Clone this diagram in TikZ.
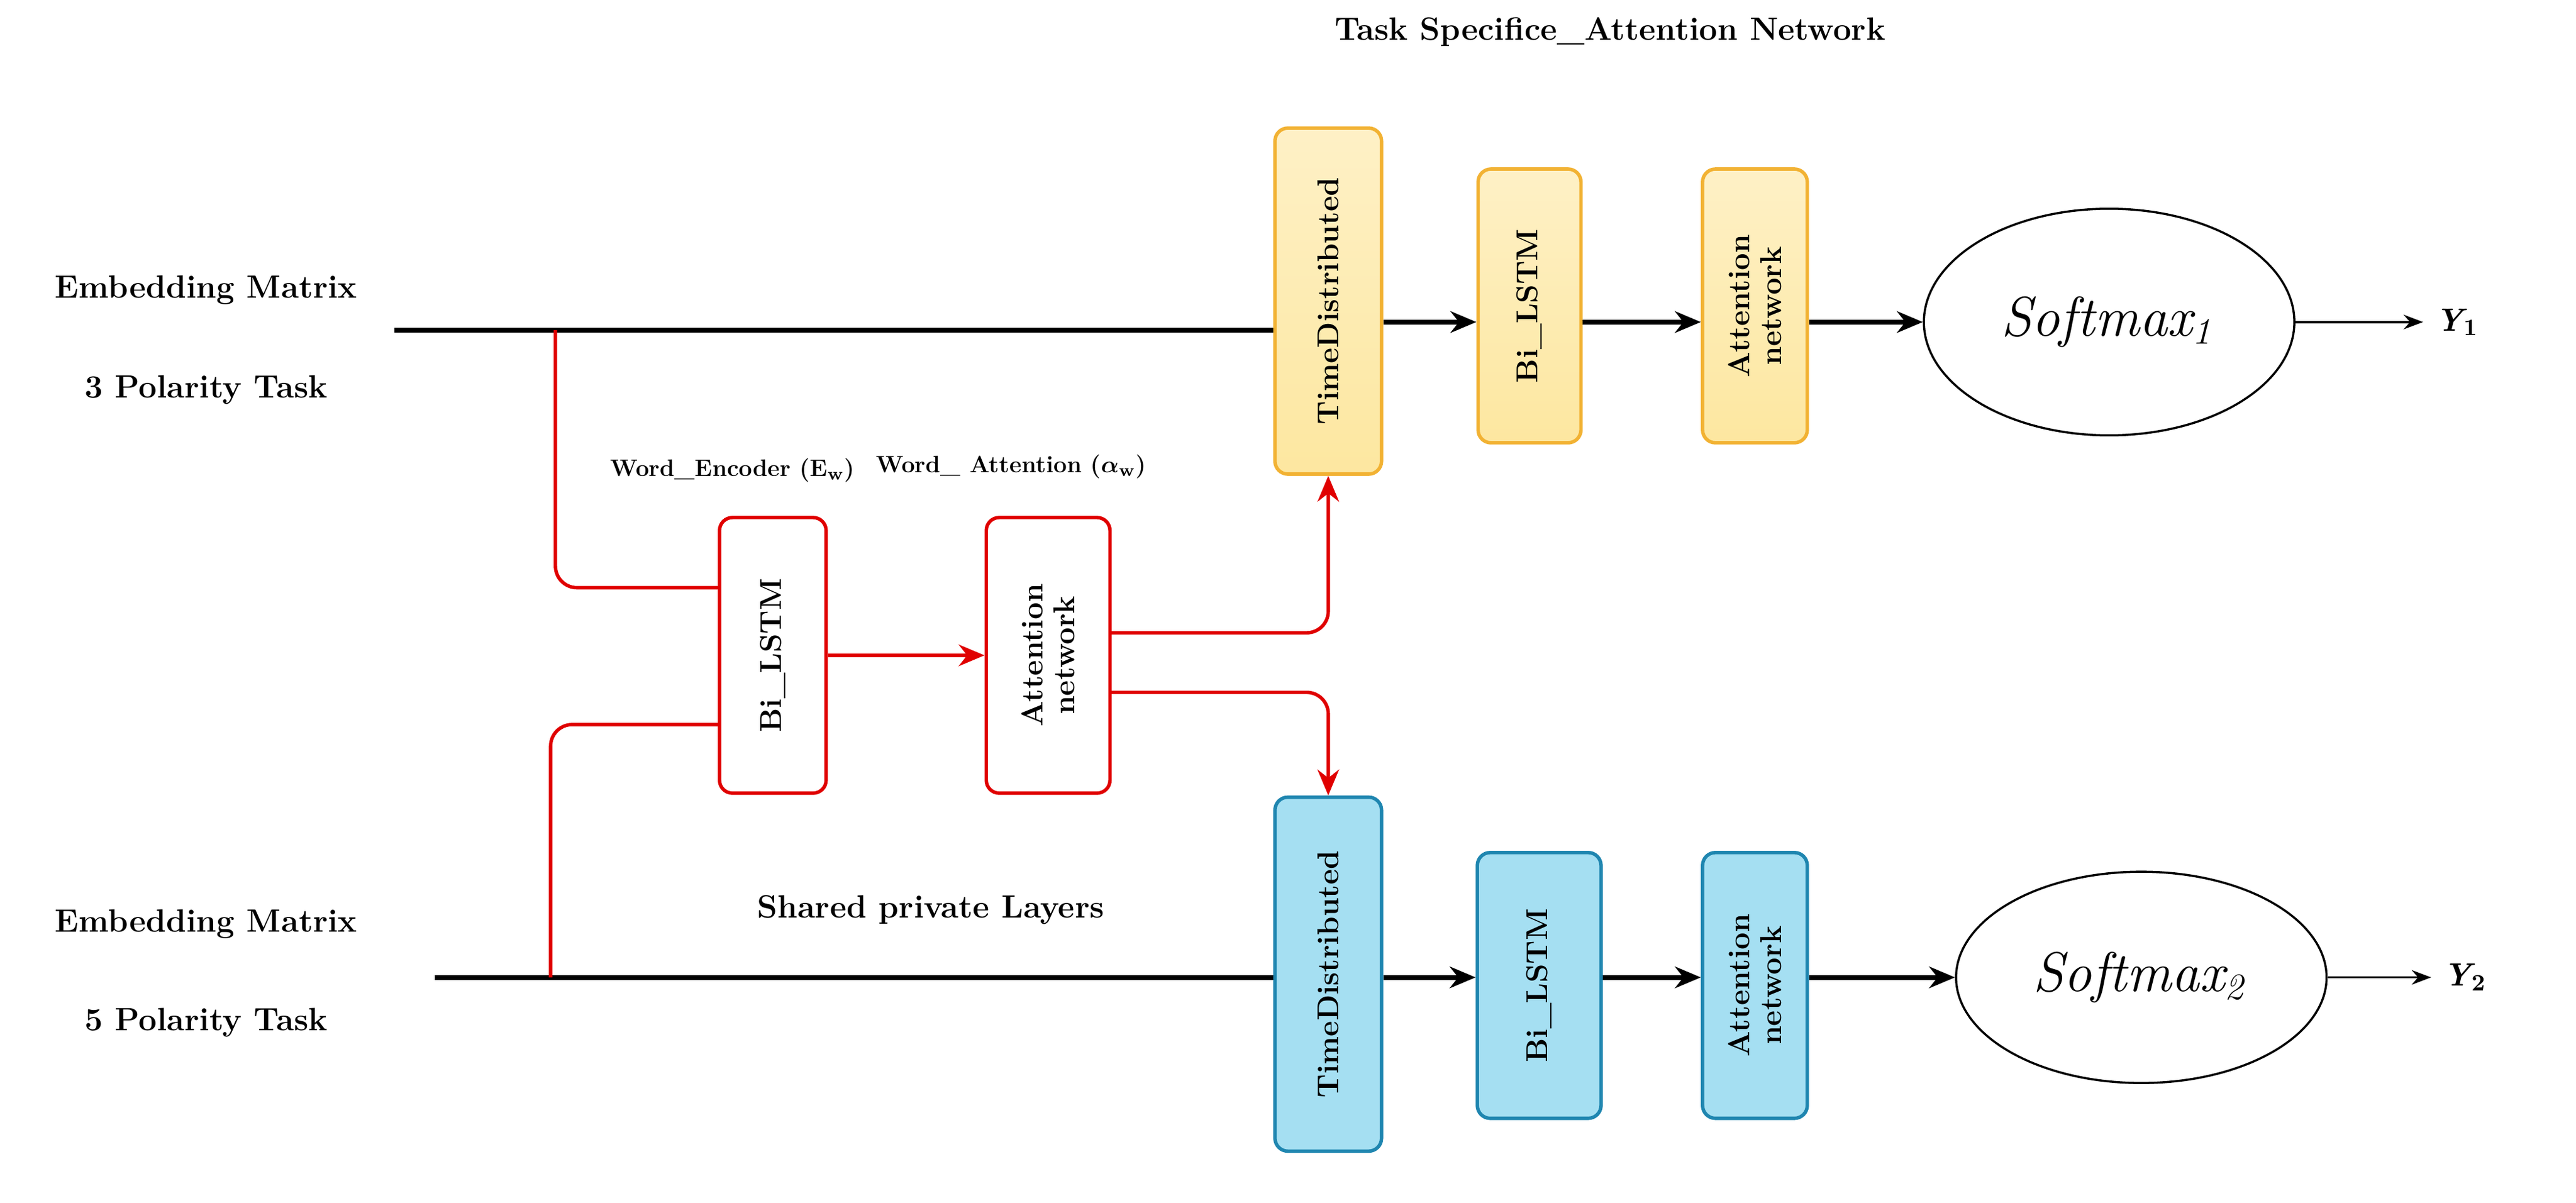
\documentclass[tikz,border=0pt]{standalone}
\usepackage{amsmath,amssymb}
\usepackage{tikz}
\usetikzlibrary{shapes,arrows,arrows.meta,backgrounds,positioning}
\definecolor{ylwfill}{HTML}{FDE7A0}
\definecolor{ylwdraw}{HTML}{F2B233}
\definecolor{bluefill}{HTML}{A5DFF2}
\definecolor{bluedraw}{HTML}{1F86B0}
\definecolor{redline}{HTML}{E00000}
\tikzset{
  lbl/.style = {font=\fontsize{15}{17}\selectfont\bfseries, align=center},
  small_lbl/.style = {font=\fontsize{11}{13}\selectfont\bfseries},
  blk/.style = {draw, rounded corners=6pt, line width=1.6pt, rotate=90,
    font=\fontsize{14}{15}\selectfont\bfseries, align=center, inner sep=2pt},% box of one layer
  blk_y/.style = {blk, draw=ylwdraw, top color=ylwfill!60, bottom color=ylwfill},
  blk_b/.style = {blk, draw=bluedraw, fill=bluefill},
  blk_r/.style = {blk, draw=redline, fill=white},
  smax/.style = {draw, ellipse, line width=1pt, font=\fontsize{26}{28}\selectfont\itshape},
  flow/.style = {-{Stealth[length=12pt,width=10pt]}, line width=2.2pt},
  rflow/.style = {-{Stealth[length=12pt,width=10pt]}, line width=1.6pt, redline, rounded corners=10pt}
}
\begin{document}
\begin{tikzpicture}[x=0.02629cm, y=-0.02629cm]
  \useasboundingbox (0,0) rectangle (1600,747);
  \node [lbl] (title) at (1000,20) {Task Specifice\_Attention Network};
  % labels of the two tasks
  \node [lbl] (em1) at (128,180) {Embedding Matrix};
  \node [lbl] (pt1) at (128,242) {3 Polarity Task};
  \node [lbl] (em2) at (128,574) {Embedding Matrix};
  \node [lbl] (pt2) at (128,635) {5 Polarity Task};
  % task 1
  \node [blk_y, minimum width=5.65cm, minimum height=1.74cm] (td1) at (825,187) {TimeDistributed};
  \node [blk_y, minimum width=4.47cm, minimum height=1.68cm] (bl1) at (950,190) {Bi\_LSTM};
  \node [blk_y, minimum width=4.47cm, minimum height=1.71cm] (at1) at (1090,190) {Attention\\network};
  \node [smax, minimum width=6.05cm, minimum height=3.7cm] (sm1) at (1310,200) {Softmax$_{\mathit 1}$};
  \coordinate (in1) at (245,205);
  \coordinate (y1) at (1505,200);
  \node [font=\fontsize{15}{17}\selectfont\bfseries\itshape, anchor=west] (Y1) at (1508,200) {Y$_{\mathbf 1}$};
  % task 2
  \node [blk_b, minimum width=5.78cm, minimum height=1.74cm] (td2) at (825,605) {TimeDistributed};
  \node [blk_b, minimum width=4.34cm, minimum height=2.02cm] (bl2) at (956,612) {Bi\_LSTM};
  \node [blk_b, minimum width=4.34cm, minimum height=1.71cm] (at2) at (1090,612) {Attention\\network};
  \node [smax, minimum width=6.05cm, minimum height=3.45cm] (sm2) at (1330,607) {Softmax$_{\mathit 2}$};
  \coordinate (in2) at (270,607);
  \coordinate (y2) at (1510,607);
  \node [font=\fontsize{15}{17}\selectfont\bfseries\itshape, anchor=west] (Y2) at (1513,607) {Y$_{\mathbf 2}$};
  % shared layers
  \node [blk_r, minimum width=4.5cm, minimum height=1.74cm] (blr) at (480,407) {Bi\_LSTM};
  \node [blk_r, minimum width=4.5cm, minimum height=2.02cm] (atr) at (651,407) {Attention\\network};
  \node [small_lbl] (we) at (455,292) {Word\_Encoder (E$_\mathbf{w}$)};
  \node [small_lbl] (wa) at (628,290) {Word\_ Attention ($\boldsymbol{\alpha}_\mathbf{w}$)};
  \node [lbl] (spl) at (578,565) {Shared private Layers};
  % black connectors (boxes are turned: north is their left side)
  \draw [line width=2.2pt] (in1) -- (td1.north |- in1);
  \draw [flow] (td1.south |- 0,200) -- (bl1.north |- 0,200);
  \draw [flow] (bl1.south |- 0,200) -- (at1.north |- 0,200);
  \draw [flow] (at1.south |- 0,200) -- (sm1.west);
  \draw [-{Stealth[length=9pt]}, line width=1pt] (sm1.east) -- (y1);
  \draw [line width=2.2pt] (in2) -- (td2.north |- in2);
  \draw [flow] (td2.south |- 0,607) -- (bl2.north |- 0,607);
  \draw [flow] (bl2.south |- 0,607) -- (at2.north |- 0,607);
  \draw [flow] (at2.south |- 0,607) -- (sm2.west);
  \draw [-{Stealth[length=9pt]}, line width=1pt] (sm2.east) -- (y2);
  % red connectors
  \draw [rflow, -] (345,205) -- (345,365) -- (blr.north |- 0,365);
  \draw [rflow, -] (342,607) -- (342,450) -- (blr.north |- 0,450);
  \draw [rflow, rounded corners=0pt] (blr.south) -- (atr.north);
  \draw [rflow] (atr.south |- 0,393) -- (td1.west |- 0,393) -- (td1.west);
  \draw [rflow] (atr.south |- 0,430) -- (td2.east |- 0,430) -- (td2.east);
\end{tikzpicture}
\end{document}
